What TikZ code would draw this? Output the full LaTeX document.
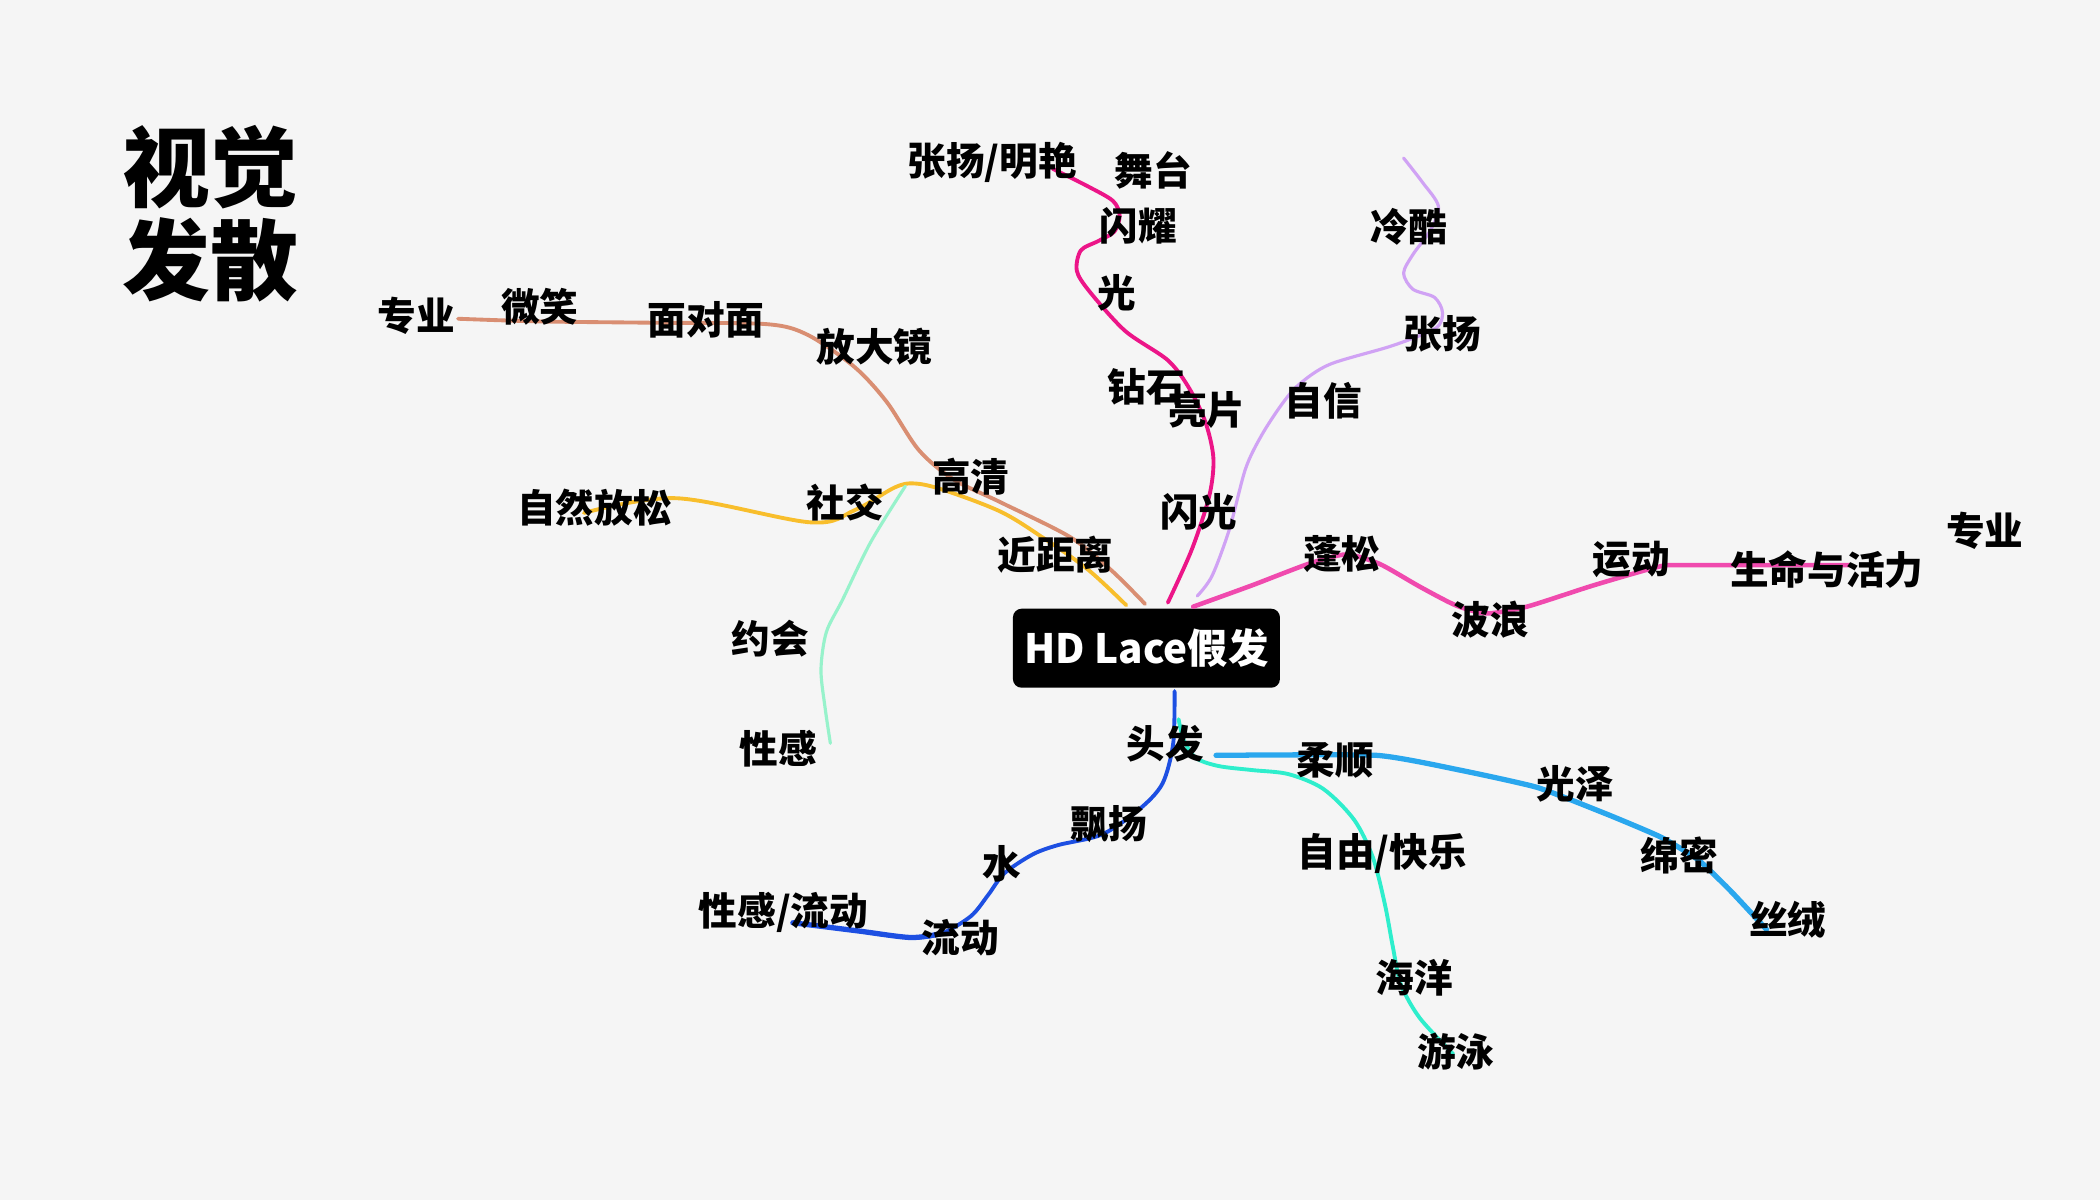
\documentclass[tikz,border=0pt]{standalone}
\usepackage{fontspec}
\setmainfont{Noto Sans CJK SC}
\usetikzlibrary{positioning}

\definecolor{paper}{HTML}{F5F5F5}
\definecolor{salmon}{HTML}{D98E72}
\definecolor{sunny}{HTML}{F8BE2C}
\definecolor{mint}{HTML}{97F2CB}
\definecolor{rose}{HTML}{EC1588}
\definecolor{lilac}{HTML}{D0A2F4}
\definecolor{hotpink}{HTML}{F04AAE}
\definecolor{royal}{HTML}{1D4FE2}
\definecolor{aqua}{HTML}{2EEECC}
\definecolor{sky}{HTML}{2AA7EE}

\begin{document}
\begin{tikzpicture}[
        x=0.013393cm,
        y=-0.013393cm,
        word/.style={
                font=\bfseries\fontsize{11}{13}\selectfont,
                inner sep=0pt
            },
        headline/.style={
                font=\bfseries\fontsize{25}{26}\selectfont,
                inner sep=0pt
            },
        hub/.style={
                rectangle,
                rounded corners=2.5pt,
                fill=black,
                text=white,
                minimum width=76pt,
                minimum height=22.5pt,
                inner sep=0pt,
                font=\bfseries\fontsize{11.5}{13}\selectfont
            },
        branch/.style={
                line width=1.1pt,
                line cap=round,
                line join=round
            }
    ]
    \fill[paper] (0,0) rectangle (1568,896);
    \useasboundingbox (0,0) rectangle (1568,896);

    \node[headline] (visual) at (157,125) {视觉};
    \node[headline] (diverge) [below=2pt of visual] {发散};

    \node[hub] (hub) at (856,484) {HD Lace假发};

    \coordinate (salmonA) at (342,238);
    \coordinate (salmonB) at ([shift={(-1,-3)}]hub.north);
    \coordinate (sunnyA) at (436,383);
    \coordinate (sunnyB) at ([shift={(-15,-2)}]hub.north);
    \coordinate (mintA) at (676,363);
    \coordinate (mintB) at (620,555);
    \coordinate (roseA) at (786,126);
    \coordinate (roseB) at ([shift={(16,-4)}]hub.north);
    \coordinate (lilacA) at (1048,118);
    \coordinate (lilacB) at ([shift={(38,-9)}]hub.north);
    \coordinate (pinkA) at ([shift={(35,-1)}]hub.north);
    \coordinate (pinkB) at (1381,422);
    \coordinate (royalA) at ([shift={(21,2)}]hub.south);
    \coordinate (royalB) at (592,689);
    \coordinate (aquaA) at (880,537);
    \coordinate (aquaB) at (1085,787);
    \coordinate (skyA) at (908,564);
    \coordinate (skyB) at (1319,694);

    \draw[branch, salmon] plot[smooth, tension=0.5] coordinates {(salmonA) (403,240) (490,241) (572,242) (603,250) (638,274) (662,300) (686,336) (712,358) (747,375) (799,401) (830,426) (salmonB)};
    \draw[branch, sunny] plot[smooth, tension=0.55] coordinates {(sunnyA) (505,372) (605,390) (638,381) (668,364) (683,361) (705,366) (747,382) (778,401) (812,425) (sunnyB)};
    \draw[branch, mint, line width=0.9pt] plot[smooth, tension=0.5] coordinates {(mintA) (650,405) (629,448) (617,472) (613,500) (616,528) (mintB)};
    \draw[branch, rose] plot[smooth, tension=0.5] coordinates {(roseA) (812,139) (831,150) (836,161) (832,173) (820,180) (807,187) (804,202) (813,217) (840,247) (872,269) (888,290) (900,315) (906,342) (903,370) (890,410) (roseB)};
    \draw[branch, lilac, line width=0.9pt] plot[smooth, tension=0.5] coordinates {(lilacA) (1062,136) (1074,154) (1068,172) (1055,190) (1048,204) (1055,216) (1071,222) (1077,233) (1072,245) (1040,258) (993,272) (970,287) (957,302) (942,325) (930,350) (918,395) (905,430) (lilacB)};
    \draw[branch, hotpink, line width=1.3pt] plot[smooth, tension=0.4] coordinates {(pinkA) (935,437) (977,421) (1005,414) (1030,421) (1060,438) (1087,452) (1110,458) (1140,453) (1190,437) (1239,423) (1258,422) (pinkB)};
    \draw[branch, royal] plot[smooth, tension=0.5] coordinates {(royalA) (876,555) (868,585) (851,604) (823,623) (790,631) (771,638) (750,652) (738,668) (725,684) (703,697) (680,700) (640,695) (royalB)};
    \draw[branch, royal, line width=1.5pt] plot[smooth, tension=0.5] coordinates {(703,697) (680,700) (640,695) (royalB)};
    \draw[branch, aqua] plot[smooth, tension=0.5] coordinates {(aquaA) (884,553) (893,566) (910,572) (935,575) (962,578) (988,589) (1011,612) (1025,640) (1034,675) (1040,707) (1046,735) (1060,760) (aquaB)};
    \draw[branch, sky, line width=1.5pt] plot[smooth, tension=0.3] coordinates {(skyA) (1028,564) (1090,575) (1148,588) (1200,608) (1240,625) (1268,642) (1292,665) (skyB)};

    \node[word] (leftpro) at (311,236) {专业};
    \node[word] (smile) at (403,229) {微笑};
    \node[word] (facetoface) at (527,239) {面对面};
    \node[word] (magnifier) at (653,259) {放大镜};
    \node[word] (hdef) at (725,356) {高清};
    \node[word] (closeup) at (788,414) {近距离};
    \node[word] (relaxed) at (444,379) {自然放松};
    \node[word] (social) at (631,375) {社交};
    \node[word] (dating) at (575,477) {约会};
    \node[word] (leftsexy) at (581,559) {性感};
    \node[word] (vivid) at (741,121) {张扬/明艳};
    \node[word] (stage) at (861,127) {舞台};
    \node[word] (shine) at (850,169) {闪耀};
    \node[word] (light) at (834,219) {光};
    \node[word] (diamond) at (856,289) {钻石};
    \node[word] (sequin) at (901,306) {亮片};
    \node[word] (flash) at (895,382) {闪光};
    \node[word] (confident) at (988,299) {自信};
    \node[word] (cool) at (1052,169) {冷酷};
    \node[word] (bold) at (1077,249) {张扬};
    \node[word] (fluffy) at (1002,414) {蓬松};
    \node[word] (wave) at (1113,463) {波浪};
    \node[word] (sport) at (1218,418) {运动};
    \node[word] (vitality) at (1364,425) {生命与活力};
    \node[word] (rightpro) at (1482,396) {专业};
    \node[word] (hair) at (870,555) {头发};
    \node[word] (smooth) at (997,568) {柔顺};
    \node[word] (gloss) at (1176,585) {光泽};
    \node[word] (dense) at (1254,639) {绵密};
    \node[word] (velvet) at (1335,687) {丝绒};
    \node[word] (freedom) at (1032,637) {自由/快乐};
    \node[word] (ocean) at (1056,730) {海洋};
    \node[word] (swim) at (1087,785) {游泳};
    \node[word] (flutter) at (828,615) {飘扬};
    \node[word] (water) at (748,645) {水};
    \node[word] (flow) at (717,700) {流动};
    \node[word] (sexyflow) at (585,681) {性感/流动};
\end{tikzpicture}
\end{document}
